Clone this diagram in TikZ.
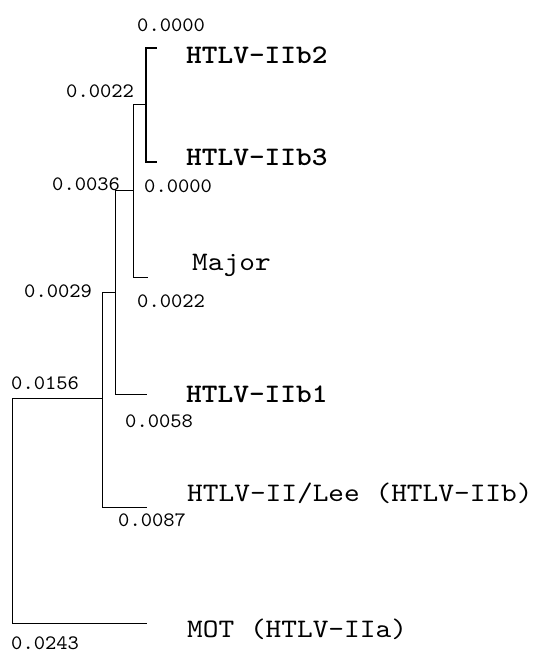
\documentclass[tikz,border=0pt]{standalone}
\usepackage{fontspec}
\setmonofont{lmmono10-regular}[Extension=.otf, BoldFont=lmmonolt10-bold]
\newcommand{\leaftext}[1]{\scalebox{1.12}[1]{#1}}
\newcommand{\lentext}[1]{\scalebox{1.05}[1]{#1}}
\begin{document}
\begin{tikzpicture}[x=1pt,y=-1pt,
  branch/.style={draw=black,line width=0.9pt},
  thick branch/.style={draw=black,line width=1.5pt},
  leaf/.style={anchor=base west,inner sep=0pt,font=\ttfamily\fontsize{26.7}{28}\selectfont},
  bleaf/.style={leaf,font=\ttfamily\bfseries\fontsize{26.7}{28}\selectfont},
  blen/.style={anchor=base west,inner sep=0pt,font=\ttfamily\fontsize{20.5}{22}\selectfont}]
\useasboundingbox[fill=white] (0,0) rectangle (540,653);
% internal nodes and tips
\coordinate (n1) at (146,104);
\coordinate (t2) at (157,48);
\coordinate (t3) at (157,162);
\coordinate (n2) at (133,190);
\coordinate (tM) at (148,277);
\coordinate (n3) at (115,292);
\coordinate (t1) at (147,394);
\coordinate (n4) at (102,398);
\coordinate (tL) at (147,507);
\coordinate (r) at (12,398);
\coordinate (tO) at (147,623);
% branches
\draw[thick branch] (n1) |- (t2);
\draw[thick branch] (n1) |- (t3);
\draw[branch] (n2) |- (n1);
\draw[branch] (n2) |- (tM);
\draw[branch] (n3) |- (n2);
\draw[branch] (n3) |- (t1);
\draw[branch] (n4) |- (n3);
\draw[branch] (n4) |- (tL);
\draw[branch] (r) -- (n4);
\draw[branch] (r) |- (tO);
% leaf labels
\node[bleaf] (l2) at (186,63) {\leaftext{HTLV-IIb2}};
\node[bleaf] (l3) at (186,165) {\leaftext{HTLV-IIb3}};
\node[leaf] (lM) at (192,270) {\leaftext{Major}};
\node[bleaf] (l1) at (186,402) {\leaftext{HTLV-IIb1}};
\node[leaf] (lL) at (187,501) {\leaftext{HTLV-II/Lee (HTLV-IIb)}};
\node[leaf] (lO) at (187,637) {\leaftext{MOT (HTLV-IIa)}};
% branch lengths
\node[blen] (b1) at (137,31) {\lentext{0.0000}};
\node[blen] (b2) at (66,97) {\lentext{0.0022}};
\node[blen] (b3) at (52,190) {\lentext{0.0036}};
\node[blen] (b4) at (144,192) {\lentext{0.0000}};
\node[blen] (b5) at (24,297) {\lentext{0.0029}};
\node[blen] (b6) at (137,307) {\lentext{0.0022}};
\node[blen] (b7) at (11,389) {\lentext{0.0156}};
\node[blen] (b8) at (125,427) {\lentext{0.0058}};
\node[blen] (b9) at (118,526) {\lentext{0.0087}};
\node[blen] (b10) at (11,649) {\lentext{0.0243}};
\end{tikzpicture}
\end{document}
